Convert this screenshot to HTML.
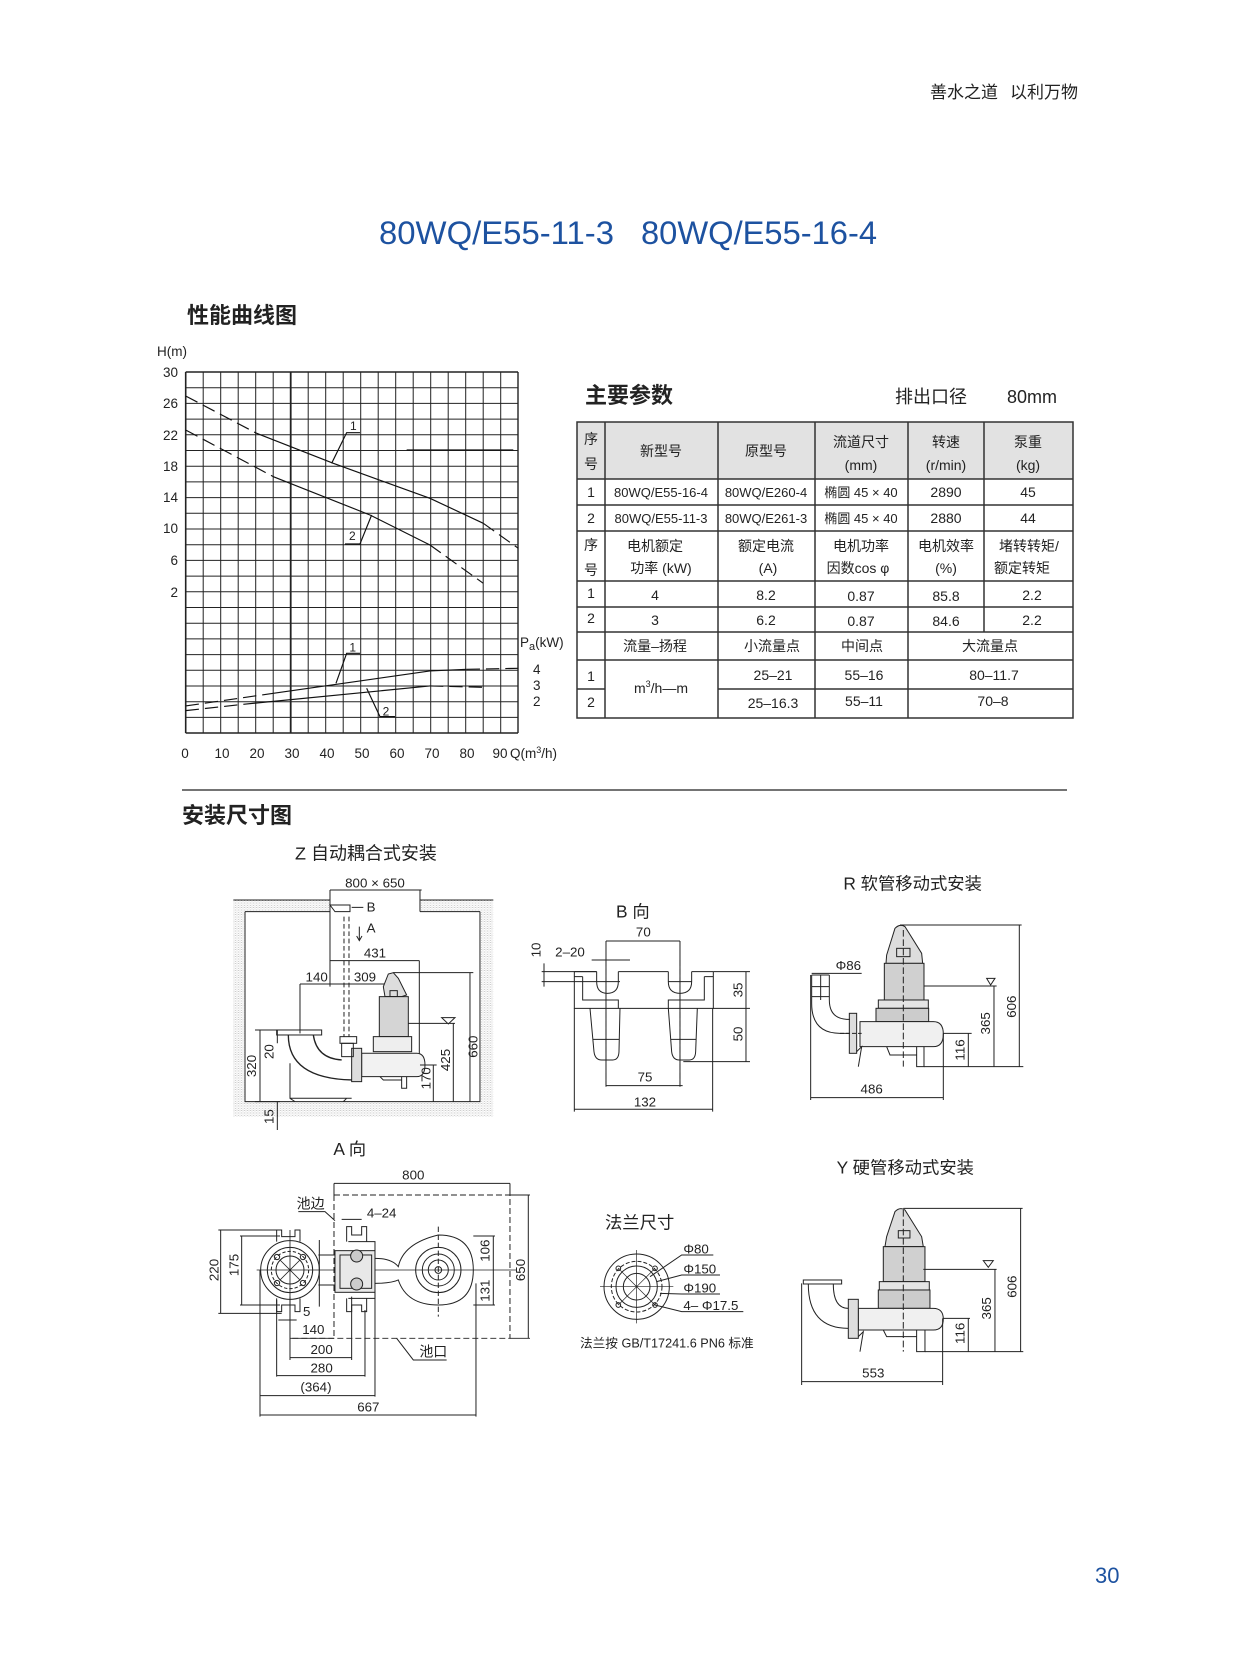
<!DOCTYPE html>
<html><head><meta charset="utf-8"><style>
html,body{margin:0;padding:0;background:#fff;}
svg{display:block;}
text{font-family:"Liberation Sans","Noto Sans CJK SC",sans-serif;fill:#222;}
</style></head><body>
<svg width="1235" height="1665" viewBox="0 0 1235 1665" xmlns="http://www.w3.org/2000/svg">
<defs>
<pattern id="st" width="9" height="7" patternUnits="userSpaceOnUse">
<rect width="9" height="7" fill="#fff"/>
<circle cx="2" cy="2" r="0.9" fill="#444"/><circle cx="6" cy="5" r="0.7" fill="#666"/><rect x="5" y="1" width="2" height="0.9" fill="#555"/>
</pattern>
</defs>
<!-- header -->
<text x="930" y="98" font-size="17" fill="#333">善水之道</text>
<text x="1010" y="98" font-size="17" fill="#333">以利万物</text>
<text x="379" y="244" font-size="32" style="fill:#1d52a0" textLength="235" lengthAdjust="spacingAndGlyphs">80WQ/E55-11-3</text>
<text x="641" y="244" font-size="32" style="fill:#1d52a0" textLength="236" lengthAdjust="spacingAndGlyphs">80WQ/E55-16-4</text>
<text x="187" y="323" font-size="22" font-weight="bold" fill="#333">性能曲线图</text>

<!-- chart grid -->
<g stroke="#222" stroke-width="1">
<line x1="185.7" y1="372" x2="185.7" y2="733" stroke-width="1.6"/>
<line x1="203.2" y1="372" x2="203.2" y2="733"/><line x1="220.7" y1="372" x2="220.7" y2="733"/><line x1="238.2" y1="372" x2="238.2" y2="733"/><line x1="255.7" y1="372" x2="255.7" y2="733"/><line x1="273.2" y1="372" x2="273.2" y2="733"/><line x1="290.7" y1="372" x2="290.7" y2="733" stroke-width="1.8"/><line x1="308.2" y1="372" x2="308.2" y2="733"/><line x1="325.7" y1="372" x2="325.7" y2="733"/><line x1="343.2" y1="372" x2="343.2" y2="733"/><line x1="360.7" y1="372" x2="360.7" y2="733"/><line x1="378.2" y1="372" x2="378.2" y2="733"/><line x1="395.7" y1="372" x2="395.7" y2="733"/><line x1="413.2" y1="372" x2="413.2" y2="733"/><line x1="430.7" y1="372" x2="430.7" y2="733"/><line x1="448.2" y1="372" x2="448.2" y2="733"/><line x1="465.7" y1="372" x2="465.7" y2="733"/><line x1="483.2" y1="372" x2="483.2" y2="733"/><line x1="500.7" y1="372" x2="500.7" y2="733"/><line x1="518" y1="372" x2="518" y2="733" stroke-width="1.4"/>
<line x1="185.7" y1="372" x2="518" y2="372" stroke-width="1.4"/><line x1="185.7" y1="387.7" x2="518" y2="387.7"/><line x1="185.7" y1="403.4" x2="518" y2="403.4"/><line x1="185.7" y1="419.1" x2="518" y2="419.1"/><line x1="185.7" y1="434.8" x2="518" y2="434.8"/><line x1="185.7" y1="450.5" x2="518" y2="450.5"/><line x1="185.7" y1="466.2" x2="518" y2="466.2"/><line x1="185.7" y1="481.9" x2="518" y2="481.9"/><line x1="185.7" y1="497.6" x2="518" y2="497.6"/><line x1="185.7" y1="513.3" x2="518" y2="513.3"/><line x1="185.7" y1="529" x2="518" y2="529"/><line x1="185.7" y1="544.7" x2="518" y2="544.7"/><line x1="185.7" y1="560.4" x2="518" y2="560.4"/><line x1="185.7" y1="576.1" x2="518" y2="576.1"/><line x1="185.7" y1="591.8" x2="518" y2="591.8"/><line x1="185.7" y1="607.5" x2="518" y2="607.5"/><line x1="185.7" y1="623.2" x2="518" y2="623.2"/><line x1="185.7" y1="638.9" x2="518" y2="638.9"/><line x1="185.7" y1="654.6" x2="518" y2="654.6"/><line x1="185.7" y1="670.3" x2="518" y2="670.3"/><line x1="185.7" y1="686" x2="518" y2="686"/><line x1="185.7" y1="701.7" x2="518" y2="701.7"/><line x1="185.7" y1="717.4" x2="518" y2="717.4"/><line x1="185.7" y1="733" x2="518" y2="733" stroke-width="1.6"/>
</g>
<!-- curves in zoom coords -->
<g transform="translate(150,290) scale(0.3333)" fill="none" stroke="#111" stroke-width="3.5">
<path d="M107,318 L320,430" stroke-dasharray="40,18"/>
<path d="M320,430 L550,520 L840,625 L1000,700"/>
<path d="M1000,700 L1105,775" stroke-dasharray="40,18"/>
<path d="M107,420 L370,560" stroke-dasharray="40,18"/>
<path d="M370,560 L660,675 L840,765"/>
<path d="M840,765 L1000,880" stroke-dasharray="40,18"/>
<path d="M107,1248 L370,1210" stroke-dasharray="40,18"/>
<path d="M370,1210 L840,1143 L950,1138"/>
<path d="M950,1138 L1105,1135" stroke-dasharray="40,18"/>
<path d="M107,1262 L280,1243" stroke-dasharray="40,18"/>
<path d="M280,1243 L840,1188"/>
<path d="M840,1188 L1000,1192" stroke-dasharray="40,18"/>
<path d="M770,480 H1090"/>
<path d="M545,520 L590,428 H630 M585,762 H630 L665,675 M558,1180 L590,1090 H630 M650,1195 L690,1280 H735"/>
<g font-size="36" stroke="none" fill="#222">
<text x="600" y="420">1</text><text x="597" y="750">2</text><text x="598" y="1085">1</text><text x="698" y="1277">2</text>
</g>
</g>
<g font-size="13.5">
<text x="157" y="356">H(m)</text>
<g text-anchor="end"><text x="178" y="377">30</text><text x="178" y="408">26</text><text x="178" y="440">22</text><text x="178" y="471">18</text><text x="178" y="502">14</text><text x="178" y="533">10</text><text x="178" y="565">6</text><text x="178" y="597">2</text></g>
<g text-anchor="middle"><text x="185" y="758">0</text><text x="222" y="758">10</text><text x="257" y="758">20</text><text x="292" y="758">30</text><text x="327" y="758">40</text><text x="362" y="758">50</text><text x="397" y="758">60</text><text x="432" y="758">70</text><text x="467" y="758">80</text><text x="500" y="758">90</text></g>
<text x="510" y="758">Q(m<tspan font-size="9" dy="-5">3</tspan><tspan dy="5">/h)</tspan></text>
<text x="520" y="647">P<tspan font-size="11" dy="3">a</tspan><tspan dy="-3">(kW)</tspan></text>
<text x="533" y="674">4</text><text x="533" y="690">3</text><text x="533" y="706">2</text>
</g>

<!-- table -->
<text x="585" y="403" font-size="22" font-weight="bold" fill="#333">主要参数</text>
<text x="895" y="403" font-size="18" fill="#333">排出口径</text>
<text x="1007" y="403" font-size="18" fill="#333">80mm</text>
<rect x="577" y="422" width="496" height="57" fill="#e2e2e2"/>
<g stroke="#333" stroke-width="1.5" fill="none">
<rect x="577" y="422" width="496" height="296"/>
<line x1="577" y1="479" x2="1073" y2="479"/><line x1="577" y1="505" x2="1073" y2="505"/><line x1="577" y1="531" x2="1073" y2="531"/><line x1="577" y1="581" x2="1073" y2="581"/><line x1="577" y1="607" x2="1073" y2="607"/><line x1="577" y1="632" x2="1073" y2="632"/><line x1="577" y1="660" x2="1073" y2="660"/>
<line x1="577" y1="689" x2="605" y2="689"/><line x1="718" y1="689" x2="1073" y2="689"/>
<line x1="605" y1="422" x2="605" y2="718"/><line x1="718" y1="422" x2="718" y2="718"/><line x1="815" y1="422" x2="815" y2="718"/><line x1="908" y1="422" x2="908" y2="718"/><line x1="984" y1="422" x2="984" y2="632"/>
</g>
<g font-size="14" text-anchor="middle" fill="#222">
<text x="591" y="444">序</text><text x="591" y="469">号</text>
<text x="661" y="456">新型号</text><text x="766" y="456">原型号</text>
<text x="861" y="447">流道尺寸</text><text x="861" y="470">(mm)</text>
<text x="946" y="447">转速</text><text x="946" y="470">(r/min)</text>
<text x="1028" y="447">泵重</text><text x="1028" y="470">(kg)</text>
<text x="591" y="497">1</text><text x="661" y="497" font-size="13">80WQ/E55-16-4</text><text x="766" y="497" font-size="13">80WQ/E260-4</text><text x="861" y="497" font-size="13">椭圆  45 × 40</text><text x="946" y="497">2890</text><text x="1028" y="497">45</text>
<text x="591" y="523">2</text><text x="661" y="523" font-size="13">80WQ/E55-11-3</text><text x="766" y="523" font-size="13">80WQ/E261-3</text><text x="861" y="523" font-size="13">椭圆  45 × 40</text><text x="946" y="523">2880</text><text x="1028" y="523">44</text>
<text x="591" y="550">序</text><text x="591" y="575">号</text>
<text x="655" y="551">电机额定</text><text x="661" y="573">功率  (kW)</text>
<text x="766" y="551">额定电流</text><text x="768" y="573">(A)</text>
<text x="861" y="551">电机功率</text><text x="858" y="573">因数cos φ</text>
<text x="946" y="551">电机效率</text><text x="946" y="573">(%)</text>
<text x="1029" y="551">堵转转矩/</text><text x="1022" y="573">额定转矩</text>
<text x="591" y="598">1</text><text x="655" y="600">4</text><text x="766" y="600">8.2</text><text x="861" y="601">0.87</text><text x="946" y="601">85.8</text><text x="1032" y="600">2.2</text>
<text x="591" y="623">2</text><text x="655" y="625">3</text><text x="766" y="625">6.2</text><text x="861" y="626">0.87</text><text x="946" y="626">84.6</text><text x="1032" y="625">2.2</text>
<text x="655" y="651">流量–扬程</text><text x="772" y="651">小流量点</text><text x="862" y="651">中间点</text><text x="990" y="651">大流量点</text>
<text x="591" y="681">1</text><text x="773" y="680">25–21</text><text x="864" y="680">55–16</text><text x="994" y="680">80–11.7</text>
<text x="591" y="707">2</text><text x="773" y="708">25–16.3</text><text x="864" y="706">55–11</text><text x="993" y="706">70–8</text>
<text x="661" y="693">m<tspan font-size="9" dy="-6">3</tspan><tspan dy="6">/h—m</tspan></text>
</g>

<!-- separator -->
<line x1="182" y1="790" x2="1067" y2="790" stroke="#222" stroke-width="1.3"/>
<text x="182" y="823" font-size="22" font-weight="bold" fill="#333">安装尺寸图</text>

<!-- Z drawing -->
<g transform="translate(220,830) scale(0.3333)" fill="none" stroke="#222" stroke-width="3">
<text x="225" y="88" font-size="54" stroke="none" fill="#222">Z  自动耦合式安装</text>
<path d="M40,210 H820 V860 H40 Z M75,245 V815 H780 V245 H600 V210 H330 V245 Z" fill="url(#st)" fill-rule="evenodd" stroke="none"/>
<path d="M40,210 H330 M600,210 H820 M75,245 V815 H780 V245 M75,245 H330 M600,245 H780"/>
<path d="M330,180 H605 M330,180 V470 M600,180 V245"/>
<path d="M330,225 H390 V245 H345 Z M395,232 H430"/>
<path d="M372,260 V620 M387,260 V620" stroke-dasharray="14,8"/>
<path d="M418,290 V330 M410,318 L418,332 L426,318"/>
<path d="M330,392 H598 M598,392 V705"/>
<path d="M240,462 H330 M240,462 V610 M330,462 H520"/>
<path d="M490,470 L505,432 L520,428 L535,445 L560,495 L545,500 H495 Z" fill="#ddd"/>
<rect x="510" y="482" width="22" height="18"/>
<rect x="478" y="500" width="87" height="120" fill="#d5d5d5"/>
<rect x="460" y="620" width="115" height="45" fill="#eee"/>
<path d="M425,670 H590 Q615,670 615,705 Q615,740 590,740 H425 Z" fill="#f2f2f2"/>
<path d="M545,740 V775 H560 V740 M480,740 L490,750 H545"/>
<rect x="395" y="655" width="30" height="100" fill="#ddd"/>
<rect x="360" y="620" width="50" height="20"/>
<rect x="365" y="640" width="35" height="40"/>
<rect x="170" y="600" width="135" height="15"/>
<path d="M205,615 Q205,745 395,750 M280,615 Q290,685 365,690" stroke-width="4"/>
<path d="M210,700 V805 H395 M210,805 L225,815 M380,805 L370,815"/>
<path d="M665,563 H705 L685,582 Z M565,580 H705"/>
<path d="M520,428 H760 M750,428 V815 M700,580 V815 M640,705 V815 M600,705 H650 M120,600 V815 M172,600 V640 M172,815 V900 M105,600 H180 M105,815 H180"/>
<g font-size="40" stroke="none" fill="#222">
<text x="465" y="172" text-anchor="middle">800 × 650</text>
<text x="440" y="245">B</text><text x="440" y="308">A</text>
<text x="465" y="382" text-anchor="middle">431</text>
<text x="290" y="455" text-anchor="middle">140</text><text x="435" y="455" text-anchor="middle">309</text>
<text transform="translate(773,650) rotate(-90)" text-anchor="middle">660</text>
<text transform="translate(690,690) rotate(-90)" text-anchor="middle">425</text>
<text transform="translate(632,745) rotate(-90)" text-anchor="middle">170</text>
<text transform="translate(108,708) rotate(-90)" text-anchor="middle">320</text>
<text transform="translate(160,665) rotate(-90)" text-anchor="middle">20</text>
<text transform="translate(160,860) rotate(-90)" text-anchor="middle">15</text>
</g>
</g>

<!-- B view -->
<g transform="translate(520,880) scale(0.3333)" fill="none" stroke="#222" stroke-width="3">
<text x="288" y="112" font-size="52" stroke="none" fill="#222">B  向</text>
<path d="M258,183 H480 M258,183 V620 M480,183 V620" />
<path d="M258,240 V620 M480,240 V620" stroke-dasharray="18,8"/>
<path d="M215,240 H330 M72,250 V320 M65,275 H230 M65,305 H300 M445,305 H515"/>
<path d="M163,275 H230 M295,275 H445 M515,275 H580 M230,275 V305 Q230,340 262,340 Q295,340 295,305 V275 M445,275 V305 Q445,340 480,340 Q515,340 515,305 V275"/>
<path d="M163,275 V385 H580 V275 M188,290 V360 H295 V385 M553,290 V360 H445 V385 M163,290 H188 M553,290 H580"/>
<path d="M210,385 L222,515 Q225,540 245,540 H278 Q296,540 297,515 L300,385 M445,385 L455,515 Q458,540 478,540 H508 Q526,540 527,515 L532,385 M220,478 H298 M452,478 H528"/>
<path d="M580,275 H690 M580,385 H690 M490,545 H690 M678,275 V545 M163,385 V695 M578,385 V695 M258,617 H488 M163,688 H578"/>
<g font-size="40" stroke="none" fill="#222" text-anchor="middle">
<text x="370" y="170">70</text><text x="150" y="230">2–20</text>
<text transform="translate(62,210) rotate(-90)">10</text>
<text transform="translate(668,330) rotate(-90)">35</text>
<text transform="translate(668,462) rotate(-90)">50</text>
<text x="375" y="605">75</text><text x="375" y="680">132</text>
</g>
</g>

<!-- R view -->
<g transform="translate(790,860) scale(0.3333)" fill="none" stroke="#222" stroke-width="3">
<text x="160" y="88" font-size="52" stroke="none" fill="#222">R 软管移动式安装</text>
<path d="M290,285 L315,205 Q330,190 345,200 L395,280 L398,310 H288 Z" fill="#ddd"/>
<rect x="320" y="265" width="40" height="25"/>
<rect x="283" y="310" width="119" height="110" fill="#d0d0d0"/>
<rect x="265" y="420" width="150" height="25" fill="#e5e5e5"/>
<rect x="258" y="445" width="158" height="40" fill="#ccc"/>
<path d="M210,485 H430 Q460,485 460,522 Q460,560 430,560 H210 Z" fill="#f0f0f0"/>
<path d="M380,560 V620 H402 V560 M290,560 L300,585 H380"/>
<rect x="178" y="460" width="22" height="120" fill="#ddd"/>
<path d="M200,575 L215,560 L205,620"/>
<path d="M65,345 V430 Q65,520 150,520 H180 M118,345 V420 Q118,475 170,478 H180 M65,345 H118 M92,345 V420 M65,380 H118 M65,410 H118"/>
<path d="M150,520 H215" stroke-dasharray="12,6"/>
<path d="M340,210 V620" stroke-dasharray="20,8"/>
<path d="M65,340 H215 M590,355 H615 L602,375 Z M402,378 H620 M330,195 H695 M688,195 V620 M612,378 V620 M535,520 V620 M460,520 H545 M402,620 H700 M62,345 V720 M460,520 V720 M62,713 H460"/>
<g font-size="40" stroke="none" fill="#222" text-anchor="middle">
<text x="175" y="330">Φ86</text>
<text transform="translate(678,440) rotate(-90)">606</text>
<text transform="translate(600,490) rotate(-90)">365</text>
<text transform="translate(523,570) rotate(-90)">116</text>
<text x="245" y="700">486</text>
</g>
</g>

<!-- A view -->
<g transform="translate(200,1130) scale(0.3333)" fill="none" stroke="#222" stroke-width="3">
<text x="400" y="75" font-size="52" stroke="none" fill="#222">A  向</text>
<path d="M402,160 H930 M402,160 V195 M930,160 V195 M930,195 H990 M930,625 H990 M985,195 V625"/>
<path d="M402,195 H930 V625 H270 M402,195 V625" stroke-dasharray="18,9"/>
<circle cx="270" cy="420" r="88"/><circle cx="270" cy="420" r="68"/><circle cx="270" cy="420" r="42"/>
<circle cx="270" cy="420" r="56" stroke-dasharray="10,6"/>
<circle cx="231" cy="381" r="8"/><circle cx="309" cy="381" r="8"/><circle cx="231" cy="459" r="8"/><circle cx="309" cy="459" r="8"/>
<path d="M240,390 L300,450 M300,390 L240,450 M170,420 H950 M270,300 V560" stroke-width="2.5"/>
<path d="M230,335 V300 H245 V320 H285 V300 H300 V335 M230,505 V545 H245 V525 H285 V545 H300 V505"/>
<path d="M355,375 H405 M355,465 H405 M358,330 V530" />
<rect x="405" y="362" width="120" height="125" fill="#e8e8e8"/>
<rect x="420" y="375" width="95" height="100"/>
<circle cx="470" cy="378" r="18" fill="#ccc"/><circle cx="470" cy="462" r="18" fill="#ccc"/>
<path d="M440,335 V290 H455 V315 H485 V290 H500 V335 M440,505 V545 H455 V525 H485 V545 H500 V505 M445,335 H525 V362 M445,505 H525 V487"/>
<path d="M525,385 Q575,385 595,410 Q610,340 715,315 Q820,315 820,420 Q820,525 715,525 Q620,525 595,450 Q575,460 525,460"/>
<circle cx="715" cy="420" r="68"/><circle cx="715" cy="420" r="48"/><circle cx="715" cy="420" r="30"/><circle cx="715" cy="420" r="10"/>
<path d="M715,290 V560" stroke-dasharray="16,8"/>
<path d="M820,318 H885 M820,525 H885 M880,318 V525 M62,300 V550 M55,300 H245 M55,550 H245 M125,318 V525 M120,318 H240 M120,525 H240"/>
<path d="M235,570 H290 M270,500 V690 M270,625 H402 M270,683 H455 M455,500 V690 M230,510 V740 M230,737 H495 M495,540 V740 M180,420 V860 M180,797 H525 M525,480 V800 M180,855 H828 M828,460 V860"/>
<path d="M295,245 H375 L405,272 M425,268 H485 M590,625 L640,690 H740"/>
<g font-size="40" stroke="none" fill="#222" text-anchor="middle">
<text x="640" y="148">800</text>
<text x="332" y="235" font-size="42">池边</text>
<text x="545" y="262">4–24</text>
<text transform="translate(975,420) rotate(-90)">650</text>
<text transform="translate(868,362) rotate(-90)">106</text>
<text transform="translate(868,482) rotate(-90)">131</text>
<text transform="translate(55,420) rotate(-90)">220</text>
<text transform="translate(115,405) rotate(-90)">175</text>
<text x="320" y="558">5</text><text x="340" y="612">140</text><text x="365" y="672">200</text><text x="365" y="728">280</text><text x="348" y="785">(364)</text><text x="505" y="845">667</text>
<text x="700" y="680" font-size="42">池口</text>
</g>
</g>

<!-- flange + Y -->
<g transform="translate(570,1140) scale(0.3333)" fill="none" stroke="#222" stroke-width="3">
<text x="105" y="265" font-size="52" stroke="none" fill="#222">法兰尺寸</text>
<circle cx="200" cy="440" r="98"/><circle cx="200" cy="440" r="76" stroke-dasharray="12,6"/><circle cx="200" cy="440" r="62"/><circle cx="200" cy="440" r="40"/>
<circle cx="145" cy="385" r="7"/><circle cx="255" cy="385" r="7"/><circle cx="145" cy="495" r="7"/><circle cx="255" cy="495" r="7"/>
<path d="M90,440 H310 M200,330 V550 M145,385 L255,495 M255,385 L145,495" stroke-width="2"/>
<path d="M240,410 L335,345 H430 M260,425 L335,405 H450 M270,460 L335,462 H450 M255,495 L335,515 H520"/>
<g font-size="40" stroke="none" fill="#222">
<text x="340" y="340">Φ80</text><text x="340" y="400">Φ150</text><text x="340" y="457">Φ190</text><text x="340" y="510">4– Φ17.5</text>
<text x="30" y="622" font-size="38">法兰按 GB/T17241.6 PN6 标准</text>
</g>
<text x="800" y="100" font-size="52" stroke="none" fill="#222">Y 硬管移动式安装</text>
<path d="M950,290 L975,215 Q990,200 1005,210 L1055,290 L1060,320 H945 Z" fill="#ddd"/>
<rect x="985" y="272" width="35" height="22"/>
<rect x="940" y="320" width="125" height="105" fill="#d0d0d0"/>
<rect x="928" y="425" width="150" height="25" fill="#e5e5e5"/>
<rect x="925" y="450" width="155" height="55" fill="#ccc"/>
<path d="M865,505 H1090 Q1120,505 1120,537 Q1120,570 1090,570 H865 Z" fill="#f0f0f0"/>
<path d="M1040,570 V635 H1065 V570 M940,570 L950,590 H1040"/>
<rect x="835" y="478" width="30" height="117" fill="#ddd"/>
<path d="M865,590 L880,575 L870,635"/>
<rect x="700" y="420" width="115" height="12"/>
<path d="M715,432 Q715,565 835,565 M790,432 Q790,505 835,505"/>
<path d="M1000,210 V635" stroke-dasharray="20,8"/>
<path d="M1240,362 H1270 L1255,382 Z M1060,388 H1280 M1000,205 H1358 M1352,205 V635 M1275,388 V635 M1195,535 V635 M1120,535 H1200 M1065,635 H1360 M695,430 V735 M1118,535 V735 M695,725 H1118"/>
<g font-size="40" stroke="none" fill="#222" text-anchor="middle">
<text transform="translate(1340,440) rotate(-90)">606</text>
<text transform="translate(1263,505) rotate(-90)">365</text>
<text transform="translate(1183,580) rotate(-90)">116</text>
<text x="910" y="712">553</text>
</g>
</g>

<text x="1095" y="1583" font-size="22" style="fill:#1d52a0">30</text>
</svg>
</body></html>
